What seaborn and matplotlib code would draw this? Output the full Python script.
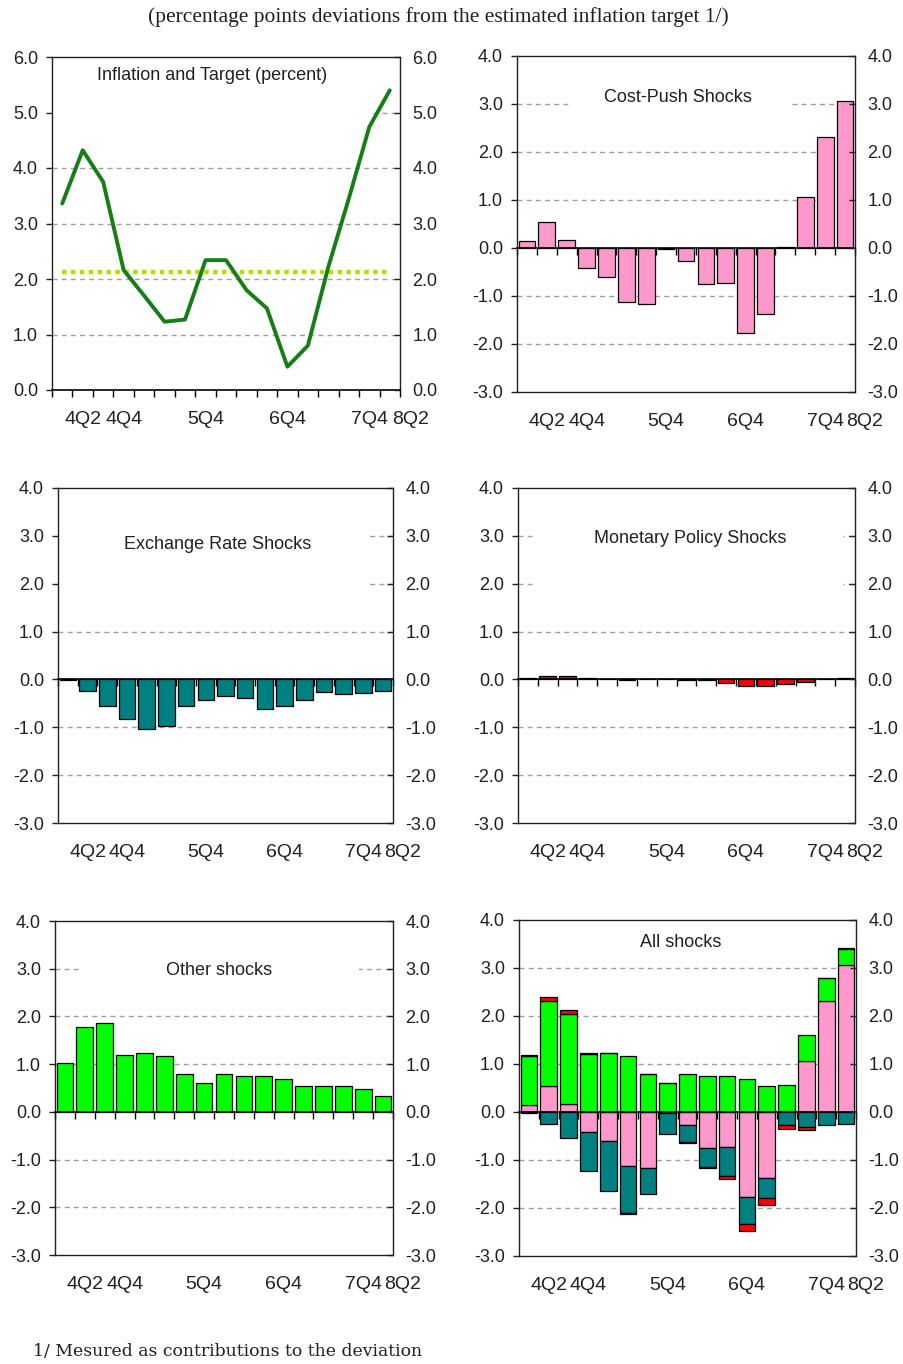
import numpy as np
import matplotlib
matplotlib.use("Agg")
import matplotlib.pyplot as plt
from matplotlib.patches import Rectangle
from matplotlib.ticker import FormatStrFormatter
import seaborn as sns

# ---- data -------------------------------------------------------------
quarters = ["4Q1", "4Q2", "4Q3", "4Q4", "5Q1", "5Q2", "5Q3", "5Q4", "6Q1",
            "6Q2", "6Q3", "6Q4", "7Q1", "7Q2", "7Q3", "7Q4", "8Q1"]
tick_quarters = ["4Q2", "4Q4", "5Q4", "6Q4", "7Q4", "8Q2"]

inflation = [3.36, 4.32, 3.75, 2.16, 1.70, 1.23, 1.27, 2.34, 2.34, 1.80,
             1.47, 0.42, 0.80, 2.22, 3.45, 4.74, 5.40]
target_rate = 2.13

cost_push = [0.14, 0.54, 0.17, -0.41, -0.61, -1.13, -1.16, -0.03, -0.27,
             -0.76, -0.72, -1.78, -1.37, 0.02, 1.06, 2.32, 3.06]
exchange_rate = [-0.02, -0.24, -0.55, -0.82, -1.03, -0.97, -0.55, -0.42,
                 -0.35, -0.39, -0.61, -0.55, -0.42, -0.27, -0.31, -0.28, -0.24]
monetary_policy = [0.02, 0.07, 0.08, 0.02, 0.0, -0.02, 0.0, 0.0, -0.02,
                   -0.02, -0.07, -0.14, -0.14, -0.09, -0.06, 0.0, 0.03]
other_shocks = [1.03, 1.78, 1.87, 1.20, 1.23, 1.17, 0.79, 0.61, 0.79, 0.75,
                0.75, 0.68, 0.54, 0.54, 0.54, 0.47, 0.33]

# ---- style ------------------------------------------------------------
sns.set_theme(style="white")
plt.rcParams["font.family"] = ["Liberation Sans", "DejaVu Sans"]
plt.rcParams["axes.unicode_minus"] = False

PINK, TEAL, RED, GREEN = "#ff99cc", "#008080", "#ff0000", "#00ff00"
LINE_GREEN, TARGET_GREEN = "#157f15", "#b0e000"
SPINE = "#202020"
GRID = "#a0a0a0"
FS = 13
XFS = 14

W, H = 904, 1364
fig = plt.figure(figsize=(W / 100, H / 100), dpi=100)
fig.patch.set_facecolor("white")


def make_axes(left, right, top, bottom):
    return fig.add_axes([left / W, 1 - bottom / H, (right - left) / W,
                         (bottom - top) / H])


def quarter_pos(label):
    y0, q0 = int(quarters[0][0]), int(quarters[0][2])
    return (int(label[0]) - y0) * 4 + int(label[2]) - q0


n = len(quarters)


def finish(ax, ylim, title, title_xy, mask=None):
    lo, hi = ylim
    ax.set_xlim(-0.5, n - 0.5)
    ax.set_ylim(lo, hi)
    ax.set_xlabel("")
    ax.set_ylabel("")
    ax.grid(False)
    for v in range(int(lo) + 1, int(hi)):
        if v != 0:
            ax.axhline(v, color=GRID, lw=1.0, ls=(0, (3.6, 3.0)), zorder=0.5)
    if mask is not None:
        (x0, x1), (y0, y1) = mask
        ax.add_patch(Rectangle((x0, y0), x1 - x0, y1 - y0, facecolor="white",
                               edgecolor="none", zorder=0.8))
    ax.text(title_xy[0], title_xy[1], title, ha="center", va="center",
            fontsize=FS, color="#202020", zorder=4)

    # frame of the plot area
    for s in ["left", "right", "top"]:
        ax.spines[s].set_visible(True)
        ax.spines[s].set_color(SPINE)
        ax.spines[s].set_linewidth(1.0)
    ax.spines["bottom"].set_position(("data", 0))
    ax.spines["bottom"].set_color("black")
    ax.spines["bottom"].set_linewidth(1.2)
    ax.spines["bottom"].set_zorder(3)
    if lo < 0:
        ax.plot([0, 1], [0, 0], transform=ax.transAxes, color=SPINE, lw=1.0,
                clip_on=False, zorder=3)

    # category boundary ticks on the zero axis
    ax.set_xticks(np.arange(-0.5, n, 1.0))
    ax.set_xticklabels([])
    ax.tick_params(axis="x", direction="out", length=5, width=1,
                   color="black", bottom=True)
    for lab in tick_quarters:
        ax.annotate(lab, xy=(quarter_pos(lab), 0),
                    xycoords=("data", "axes fraction"),
                    xytext=(0, -21), textcoords="offset points",
                    ha="center", va="center", fontsize=XFS, color="#202020",
                    annotation_clip=False)

    yt = np.arange(lo, hi + 0.01, 1.0)
    ax.set_yticks(yt)
    ax.yaxis.set_major_formatter(FormatStrFormatter("%.1f"))
    ax.tick_params(axis="y", direction="out", length=4, width=1,
                   color=SPINE, left=True, labelleft=True, labelsize=FS,
                   labelcolor="#202020", pad=6)
    ax2 = ax.twinx()
    ax2.set_ylim(lo, hi)
    ax2.set_yticks(yt)
    ax2.yaxis.set_major_formatter(FormatStrFormatter("%.1f"))
    ax2.tick_params(axis="y", direction="in", length=4, width=1,
                    color=SPINE, labelsize=FS, labelcolor="#202020", pad=9)
    for s in ax2.spines.values():
        s.set_visible(False)
    ax2.grid(False)


def single_bars(ax, values, color):
    sns.barplot(x=quarters, y=values, order=quarters, color=color,
                saturation=1, width=0.84, edgecolor="black", linewidth=0.9,
                ax=ax, zorder=2)


def stacked_bars(ax, series, colors):
    pos_base = np.zeros(n)
    neg_base = np.zeros(n)
    x = np.arange(n)
    for vals, col in zip(series, colors):
        vals = np.asarray(vals, dtype=float)
        base = np.where(vals >= 0, pos_base, neg_base)
        ax.bar(x, vals, bottom=base, width=0.84, color=col,
               edgecolor="black", linewidth=0.9, zorder=2)
        pos_base += np.clip(vals, 0, None)
        neg_base += np.clip(vals, None, 0)


# ---- inflation and target --------------------------------------------
ax = make_axes(52, 400, 57, 390)
x = np.arange(n)
sns.lineplot(x=x, y=inflation, color=LINE_GREEN, lw=2.8, ax=ax, zorder=3)
sns.lineplot(x=x, y=[target_rate] * n, color=TARGET_GREEN, lw=3.2,
             ls=(0, (1, 1)), ax=ax, zorder=2.5)
finish(ax, (0, 6), "Inflation and Target (percent)", (7.3, 5.67),
       mask=((-0.5, 15.1), (4.6, 5.95)))

# ---- cost-push --------------------------------------------------------
ax = make_axes(517, 855, 56, 392)
single_bars(ax, cost_push, PINK)
finish(ax, (-3, 4), "Cost-Push Shocks", (7.6, 3.14),
       mask=((2.1, 13.3), (2.6, 3.6)))

# ---- exchange rate ----------------------------------------------------
ax = make_axes(58, 393, 488, 823)
single_bars(ax, exchange_rate, TEAL)
finish(ax, (-3, 4), "Exchange Rate Shocks", (7.6, 2.81),
       mask=((-0.5, 15.3), (1.6, 3.6)))

# ---- monetary policy --------------------------------------------------
ax = make_axes(518, 855, 488, 823)
single_bars(ax, monetary_policy, RED)
finish(ax, (-3, 4), "Monetary Policy Shocks", (8.2, 2.94),
       mask=((0.4, 15.9), (1.6, 3.6)))

# ---- other shocks -----------------------------------------------------
ax = make_axes(55, 393, 921, 1255)
single_bars(ax, other_shocks, GREEN)
finish(ax, (-3, 4), "Other shocks", (7.75, 2.96),
       mask=((0.8, 14.8), (2.5, 3.6)))

# ---- all shocks -------------------------------------------------------
ax = make_axes(519, 856, 920, 1256)
stacked_bars(ax, [cost_push, exchange_rate, other_shocks, monetary_policy],
             [PINK, TEAL, GREEN, RED])
finish(ax, (-3, 4), "All shocks", (7.65, 3.53))

# ---- header and footnote ---------------------------------------------
fig.text(438 / W, 1 - 17 / H,
         "(percentage points deviations from the estimated inflation target 1/)",
         ha="center", va="center", fontsize=15.5, family="Liberation Serif",
         color="#202020")
fig.text(33 / W, 1 - 1352 / H, "1/ Mesured as contributions to the deviation",
         ha="left", va="center", fontsize=12.4, family="DejaVu Serif",
         color="#202020")

fig.savefig("out.png", dpi=100, facecolor="white")
